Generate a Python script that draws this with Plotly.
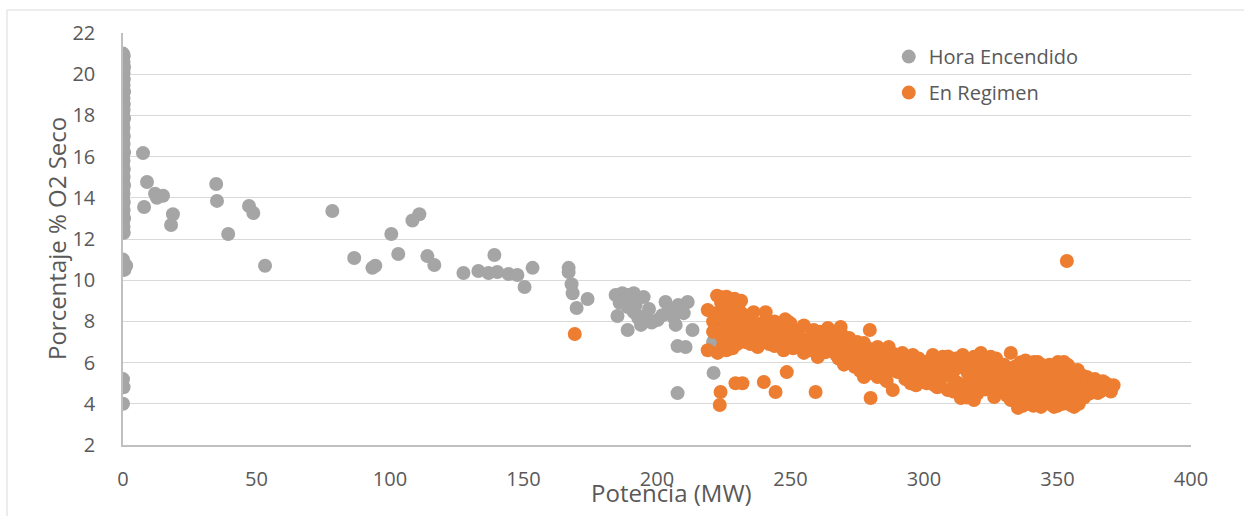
import plotly.graph_objects as go

# --- Hora Encendido (start-up hours) ---
encendido_mw = [
    0, 0.3, 0, 0.2, 0, 0.4, 0, 0.2, 0, 0.3,
    0, 0.2, 0, 0.4, 0, 0.2, 0, 0.3, 0, 0.2,
    0, 0.4, 0, 0.2, 0, 0.3, 0, 0.2, 0, 0.4,
    0, 0.2, 0, 0.3, 0, 0.2, 0, 0.4, 0, 0.2,
    0, 0.3, 0, 0.2, 0, 0.4, 0, 0.2, 0, 0.3,
    0, 0.3, 1.2, 0.2, 0.5, 0, 0.2, 0,
    7.5, 9.0, 7.9, 12.0, 12.7, 15.0, 18.7, 18.0, 34.9, 35.2,
    39.4, 47.2, 48.8, 53.2, 78.4, 86.6, 93.4, 94.5, 100.5, 103.1,
    108.4, 111.0, 114.0, 116.6, 127.5, 133.1, 136.9, 139.1, 140.2, 144.4,
    147.7, 150.4, 153.4, 166.9, 166.9, 168.0, 168.4, 169.9, 174.0, 184.5,
    187.0, 189.4, 191.3, 195.0, 185.2, 189.0, 191.3, 193.0, 196.4, 194.0,
    189.0, 200.2, 203.2, 204.4, 206.2, 207.0, 211.5, 213.3, 207.7, 210.7,
    207.7, 221.2, 221.0, 186.0, 190.0, 192.0, 197.0, 198.0, 202.0, 208.0,
    210.0, 192.7,
]
encendido_o2 = [
    21.0, 20.9, 20.75, 20.6, 20.5, 20.35, 20.2, 20.05, 19.9, 19.75,
    19.6, 19.45, 19.3, 19.15, 19.0, 18.85, 18.7, 18.55, 18.4, 18.25,
    18.1, 17.85, 17.6, 17.4, 17.2, 17.0, 16.8, 16.6, 16.4, 16.2,
    16.0, 15.8, 15.6, 15.4, 15.2, 15.0, 14.8, 14.6, 14.4, 14.2,
    14.0, 13.8, 13.6, 13.4, 13.2, 13.0, 12.8, 12.6, 12.4, 12.3,
    11.0, 10.85, 10.7, 10.55, 10.5, 5.2, 4.8, 4.0,
    16.17, 14.77, 13.55, 14.2, 14.0, 14.1, 13.2, 12.68, 14.67, 13.85,
    12.24, 13.6, 13.26, 10.7, 13.36, 11.08, 10.6, 10.7, 12.24, 11.27,
    12.9, 13.2, 11.17, 10.74, 10.35, 10.45, 10.35, 11.22, 10.4, 10.3,
    10.25, 9.67, 10.6, 10.6, 10.4, 9.8, 9.37, 8.65, 9.09, 9.28,
    9.37, 9.28, 9.37, 9.18, 8.26, 8.7, 8.45, 8.16, 8.07, 7.83,
    7.58, 8.07, 8.94, 8.55, 8.2, 7.83, 8.94, 7.58, 6.8, 6.76,
    4.52, 5.5, 7.0, 8.9, 8.95, 8.8, 8.6, 7.95, 8.3, 8.8,
    8.4, 8.3,
]

# --- En Regimen (steady operation) ---
regimen_mw = [
    # isolated readings
    169.2, 223.8, 223.5, 229.4, 232.0, 240.0, 244.4, 248.6, 259.4, 353.5,
    # 218-233 MW
    219.0, 219.0, 222.0, 222.7, 223.8, 224.6, 225.0, 226.4, 227.6, 228.3,
    224.0, 226.0, 229.0, 230.0, 231.0, 232.4, 228.0, 230.0, 233.0, 221.0,
    225.0, 227.0, 222.5, 226.0, 229.0, 231.5,
    221.0, 223.0, 225.0, 227.0, 229.0, 231.0, 224.0, 226.0, 230.0, 233.0,
    # 233-251 MW
    234.0, 236.2, 237.7, 238.0, 240.7, 241.4, 243.0, 245.2, 246.3, 244.0,
    247.4, 248.0, 250.0, 251.2, 249.0, 239.0, 242.0, 235.0,
    235.0, 237.0, 239.0, 241.0, 243.0, 245.0, 247.0, 249.0, 234.0, 236.0,
    240.0, 244.0, 248.0,
    # 251-270 MW
    252.0, 253.8, 255.0, 256.0, 258.3, 258.7, 260.2, 261.0, 262.0, 264.0,
    264.0, 265.0, 266.2, 267.0, 268.8, 269.0, 270.0, 270.0, 257.0, 263.0,
    251.0, 253.0, 255.0, 257.0, 259.0, 261.0, 263.0, 265.0, 267.0, 269.0,
    254.0, 260.0, 266.0, 268.0,
    # 270-290 MW
    271.0, 272.0, 273.7, 275.0, 276.0, 277.5, 277.5, 278.2, 279.7, 280.0,
    281.0, 282.6, 282.6, 284.0, 285.0, 286.8, 288.0, 288.3, 289.0, 290.2,
    290.2, 274.0,
    271.0, 273.0, 275.0, 277.0, 279.0, 281.0, 283.0, 285.0, 287.0, 289.0,
    276.0, 280.0, 284.0, 286.0,
    # 290-330 MW
    291.9, 293.0, 295.0, 295.8, 297.7, 298.0, 299.5, 301.4, 302.0, 303.3,
    305.2, 306.0, 307.0, 308.9, 308.9, 310.0, 311.0, 312.0, 313.8, 314.5,
    315.0, 316.4, 317.0, 318.7, 318.7, 319.0, 320.0, 321.3, 321.3, 322.0,
    323.0, 324.0, 325.0, 325.0, 326.3, 326.3, 327.7, 328.0, 329.0, 330.0,
    296.0, 300.0, 304.0, 309.0,
    292.0, 294.0, 296.0, 298.0, 300.0, 302.0, 304.0, 306.0, 308.0, 310.0,
    312.0, 313.0, 315.0, 317.0, 319.0, 320.0, 322.0, 323.0, 324.0, 327.0,
    328.0, 329.0, 330.0, 293.0, 297.0, 301.0, 305.0, 311.0, 316.0,
    # 330-360 MW
    331.0, 332.5, 332.5, 333.0, 334.0, 335.2, 336.0, 337.0, 338.0, 339.0,
    340.0, 341.2, 341.0, 342.6, 343.0, 343.8, 344.0, 345.0, 346.0, 346.0,
    347.0, 348.0, 348.7, 349.0, 350.2, 350.0, 351.0, 352.0, 352.4, 353.0,
    353.9, 354.0, 355.0, 355.0, 356.2, 357.0, 357.6, 358.8, 359.0, 360.0,
    347.0, 339.0, 337.0, 342.0, 345.0, 349.0, 351.0, 344.0, 338.0,
    331.0, 332.0, 333.0, 334.0, 335.0, 336.0, 337.0, 338.0, 339.0, 340.0,
    341.0, 342.0, 343.0, 344.0, 345.0, 346.0, 347.0, 348.0, 349.0, 350.0,
    351.0, 352.0, 353.0, 354.0, 355.0, 356.0, 357.0, 358.0, 359.0, 360.0,
    334.0, 340.0, 346.0, 352.0, 356.0, 336.0, 341.0, 350.0, 353.0,
    # 360-372 MW
    361.0, 362.5, 363.0, 364.0, 365.1, 366.0, 367.0, 368.1, 368.9, 369.3,
    361.0, 362.0, 364.0, 366.0, 367.0, 369.0, 370.0, 371.0, 363.0, 365.0,
]
regimen_o2 = [
    # isolated readings
    7.39, 4.57, 3.94, 5.0, 5.0, 5.06, 4.57, 5.54, 4.57, 10.93,
    # 218-233 MW
    8.55, 6.6, 8.4, 6.47, 9.18, 6.76, 7.9, 7.44, 9.04, 6.7,
    8.9, 8.6, 8.2, 8.7, 7.5, 7.9, 7.1, 6.9, 8.3, 8.0,
    7.0, 7.7, 9.25, 9.2, 9.1, 9.0,
    7.5, 8.2, 8.8, 8.3, 7.6, 8.5, 7.3, 6.6, 7.3, 7.0,
    # 233-251 MW
    7.6, 8.45, 6.76, 7.3, 8.45, 7.73, 7.2, 7.68, 6.85, 8.0,
    6.6, 7.4, 7.9, 7.2, 8.0, 7.9, 6.9, 6.9,
    8.1, 7.8, 7.0, 8.1, 7.6, 7.1, 7.9, 6.8, 7.3, 7.1,
    7.4, 6.8, 8.1,
    # 251-270 MW
    7.5, 6.76, 6.47, 7.0, 7.48, 7.58, 6.27, 6.9, 7.2, 7.68,
    7.58, 6.9, 6.6, 7.3, 7.73, 7.0, 5.9, 6.4, 6.6, 6.5,
    6.7, 7.3, 7.8, 7.2, 6.6, 7.5, 7.0, 7.4, 6.4, 7.4,
    7.0, 6.9, 7.1, 6.2,
    # 270-290 MW
    6.9, 7.2, 6.27, 6.6, 6.1, 6.95, 5.3, 6.03, 7.58, 4.28,
    6.4, 6.76, 5.3, 5.9, 6.2, 6.76, 6.0, 4.67, 5.6, 6.13,
    5.54, 5.8,
    6.3, 6.8, 7.0, 6.4, 6.7, 5.8, 6.3, 6.6, 5.6, 6.4,
    5.6, 5.5, 5.4, 5.1,
    # 290-330 MW
    6.47, 5.9, 5.0, 6.37, 5.78, 6.2, 5.16, 5.78, 5.4, 6.37,
    5.3, 5.9, 6.28, 4.67, 5.64, 6.0, 5.2, 5.7, 4.28, 6.37,
    4.9, 5.5, 6.0, 6.28, 4.18, 5.1, 5.7, 4.82, 6.47, 5.4,
    6.0, 6.13, 5.16, 6.28, 4.33, 6.03, 4.67, 5.6, 5.0, 5.9,
    5.5, 6.0, 4.9, 6.3,
    5.6, 6.0, 6.1, 5.3, 5.5, 6.1, 5.7, 5.1, 6.1, 5.4,
    6.2, 5.0, 5.9, 4.6, 6.0, 4.5, 5.9, 4.7, 5.6, 6.2,
    4.9, 5.4, 4.6, 5.2, 4.9, 5.0, 4.8, 4.6, 4.3,
    # 330-360 MW
    4.4, 6.47, 4.18, 5.3, 5.8, 3.8, 4.6, 5.1, 5.6, 4.2,
    4.9, 6.03, 5.4, 6.03, 4.5, 3.85, 5.2, 5.7, 4.1, 4.8,
    5.9, 5.3, 3.85, 4.5, 6.03, 5.0, 4.2, 5.6, 6.03, 4.8,
    5.88, 4.3, 3.94, 5.2, 3.85, 4.6, 5.64, 4.33, 5.0, 4.7,
    4.0, 4.0, 3.9, 4.0, 4.3, 5.6, 5.5, 5.9, 6.1,
    5.0, 5.6, 4.7, 4.2, 5.4, 6.0, 4.4, 4.7, 5.3, 5.8,
    4.5, 4.8, 5.5, 4.4, 5.0, 5.4, 4.6, 5.8, 4.2, 4.7,
    5.2, 4.0, 5.4, 4.6, 5.7, 4.3, 5.2, 4.0, 5.4, 4.3,
    4.9, 4.1, 5.6, 5.0, 4.9, 3.9, 3.9, 3.9, 4.1,
    # 360-372 MW
    4.9, 5.16, 4.6, 4.9, 4.52, 4.8, 4.7, 5.0, 4.82, 4.67,
    5.3, 4.5, 5.2, 4.6, 5.1, 4.9, 4.6, 4.9, 4.8, 5.0,
]

x_ticks = [0, 50, 100, 150, 200, 250, 300, 350, 400]
y_ticks = [2, 4, 6, 8, 10, 12, 14, 16, 18, 20, 22]

GRAY = "#a5a5a5"
ORANGE = "#ed7d31"
TEXT = "#595959"
FONT = "Open Sans, sans-serif"

fig = go.Figure()
fig.add_trace(go.Scatter(
    x=encendido_mw, y=encendido_o2, mode="markers", name="Hora Encendido",
    legendgroup="a",
    marker=dict(color=GRAY, size=14, line=dict(width=0)),
))
fig.add_trace(go.Scatter(
    x=regimen_mw, y=regimen_o2, mode="markers", name="En Regimen",
    legendgroup="b",
    marker=dict(color=ORANGE, size=14, line=dict(width=0)),
))

fig.update_layout(
    width=1244, height=516,
    margin=dict(l=123, r=53, t=33, b=71),
    paper_bgcolor="white", plot_bgcolor="white",
    font=dict(family=FONT, color=TEXT, size=20),
    showlegend=True,
    legend=dict(
        x=0.717, y=0.99, xanchor="left", yanchor="top",
        font=dict(family=FONT, size=20, color=TEXT),
        bgcolor="rgba(0,0,0,0)", tracegroupgap=7,
        itemsizing="trace",
    ),
    xaxis=dict(
        range=[0, 400], tickvals=x_ticks, showgrid=False, zeroline=False,
        showline=True, linecolor="#bfbfbf", linewidth=1.5,
        ticks="", ticklabelstandoff=15,
        tickfont=dict(family=FONT, size=20, color=TEXT),
    ),
    yaxis=dict(
        range=[2, 22], tickvals=y_ticks, showgrid=True, gridcolor="#d9d9d9",
        gridwidth=1.3, zeroline=False,
        showline=True, linecolor="#bfbfbf", linewidth=1.5,
        ticks="", ticklabelstandoff=22,
        tickfont=dict(family=FONT, size=20, color=TEXT),
    ),
    annotations=[
        dict(text="Potencia (MW)", xref="paper", yref="paper",
             x=0.514, y=-0.1165, xanchor="center", yanchor="middle",
             showarrow=False, font=dict(family=FONT, size=24, color=TEXT)),
        dict(text="Porcentaje % O2 Seco", xref="paper", yref="paper",
             x=-0.0627, y=0.5, xanchor="center", yanchor="middle",
             textangle=-90, showarrow=False,
             font=dict(family=FONT, size=24, color=TEXT)),
    ],
    shapes=[
        # chart-area frame (left and top edges fall inside the canvas)
        dict(type="rect", xref="paper", yref="paper",
             x0=-0.1086, x1=1.5, y0=-0.5, y1=1.0558,
             line=dict(color="#d9d9d9", width=1), fillcolor="rgba(0,0,0,0)",
             layer="below"),
    ],
)

fig.write_html("out.html")
